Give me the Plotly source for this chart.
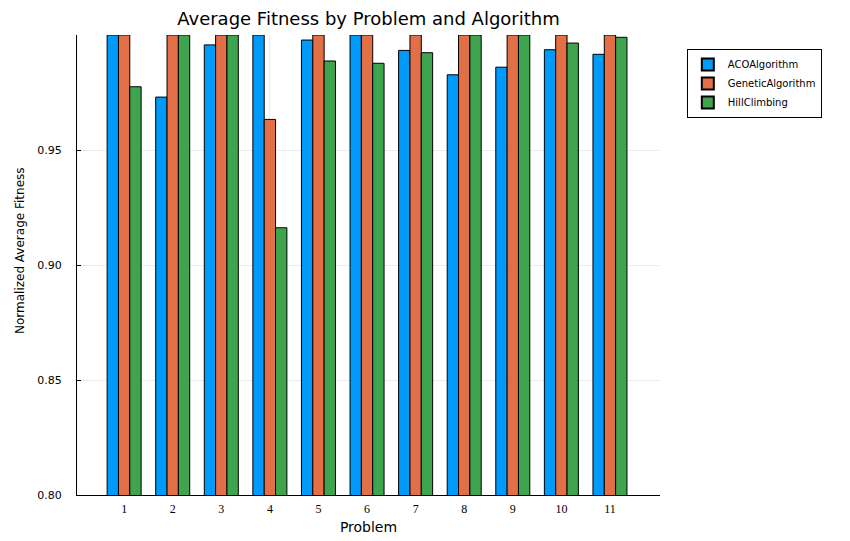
import plotly.graph_objects as go

problems = [1, 2, 3, 4, 5, 6, 7, 8, 9, 10, 11]
aco = [1.0, 0.973, 0.9957, 1.0, 0.9978, 1.0, 0.9933, 0.9827, 0.986, 0.9936, 0.9916]
genetic = [1.0, 1.0, 1.0, 0.9633, 1.0, 1.0, 1.0, 1.0, 1.0, 1.0, 1.0]
hill = [0.9775, 1.0, 1.0, 0.9162, 0.9887, 0.9877, 0.9923, 1.0, 1.0, 0.9965, 0.999]
series_names = ["ACOAlgorithm", "GeneticAlgorithm", "HillClimbing"]
colors = ["#009AFA", "#E36F47", "#3EA44E"]
ytick_vals = [0.80, 0.85, 0.90, 0.95]
ytick_text = ["0.80", "0.85", "0.90", "0.95"]

fig = go.Figure()
for name, vals, c in zip(series_names, [aco, genetic, hill], colors):
    fig.add_trace(go.Bar(x=problems, y=vals, name=name, marker=dict(color=c, line=dict(color="black", width=1))))

# page body adds an 8px offset; figure is sized so the plot lands where the reference has it
fig.update_layout(
    barmode="group", bargap=0.3, bargroupgap=0,
    width=842, height=533,
    margin=dict(l=69, r=190, t=27, b=46, autoexpand=False),
    plot_bgcolor="white", paper_bgcolor="white",
    font=dict(family="DejaVu Sans", color="black"),
    title=dict(text="Average Fitness by Problem and Algorithm", x=0.5, xref="paper", xanchor="center",
               y=1 - 4 / 533, yref="container", yanchor="top", font=dict(size=18)),
    legend=dict(x=1.046, y=0.9696, xanchor="left", yanchor="top", bordercolor="black", borderwidth=1,
                font=dict(size=10), tracegroupgap=0, itemsizing="constant"),
    xaxis=dict(range=[0.03, 12.03], tickvals=problems, ticktext=[str(p) for p in problems],
               tickfont=dict(family="Liberation Serif", size=12), showline=True, linecolor="black", linewidth=1,
               showgrid=True, gridcolor="rgba(0,0,0,0.08)", ticks="", ticklabelstandoff=3, automargin=False,
               title=dict(text="Problem", font=dict(size=14), standoff=6), zeroline=False),
    yaxis=dict(range=[0.8, 1.0], tickvals=ytick_vals, ticktext=ytick_text, tickfont=dict(size=11),
               showline=True, linecolor="black", linewidth=1, showgrid=True, gridcolor="rgba(0,0,0,0.08)",
               ticks="inside", ticklen=4, tickcolor="black", ticklabelstandoff=12, automargin=False,
               zeroline=False),
    annotations=[dict(text="Normalized Average Fitness", textangle=-90, xref="paper", yref="paper",
                      x=(20 - 77) / 583, y=(495 - 251) / 460, xanchor="center", yanchor="middle",
                      showarrow=False, font=dict(size=12))],
)
fig.write_html("out.html")
